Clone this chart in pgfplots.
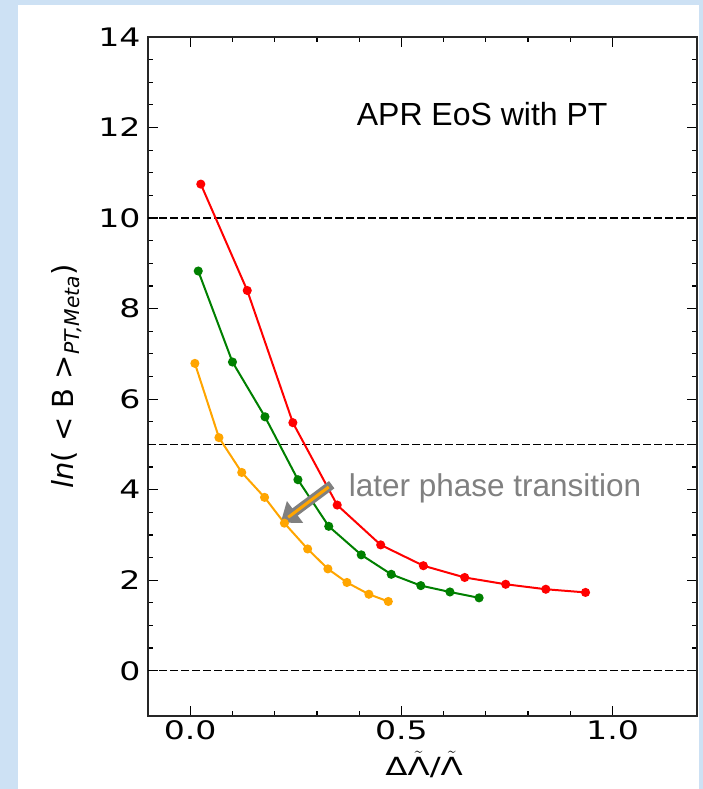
\documentclass[border=0pt]{standalone}
\usepackage{pgfplots}
\pgfplotsset{compat=1.18}
\usepackage{fontspec}
\setmainfont{DejaVu Sans}
\newfontfamily\dvwide[FakeStretch=1.3]{DejaVu Sans}
\newfontfamily\arial{Liberation Sans}
\usetikzlibrary{arrows.meta}
\definecolor{bgblue}{RGB}{205,225,244}
\definecolor{mplred}{RGB}{255,0,0}
\definecolor{mplgreen}{RGB}{0,128,0}
\definecolor{mplorange}{RGB}{255,165,0}
\definecolor{txtgray}{RGB}{128,128,128}
\begin{document}
\begin{tikzpicture}[x=1pt,y=1pt]
\useasboundingbox (0,0) rectangle (703,789);
\fill[bgblue] (0,0) rectangle (703,789);
\fill[white] (18,0) rectangle (699,784);
\begin{axis}[
  at={(148pt,73pt)}, anchor=south west,
  scale only axis, width=549pt, height=679pt,
  xmin=-0.1, xmax=1.2, ymin=-1, ymax=14,
  xtick={0,0.5,1}, minor x tick num=4,
  ytick={0,2,...,14}, minor y tick num=3,
  tick align=inside, tick pos=both,
  major tick length=10pt, minor tick length=5pt,
  every tick/.style={black, line width=1.2pt},
  axis line style={black!85, line width=1.5pt},
  /pgf/number format/assume math mode=true,
  xticklabel style={yshift=-1pt, /pgf/number format/.cd, fixed, fixed zerofill, precision=1},
  tick label style={font=\dvwide\fontsize{25.5}{29}\selectfont},
  yticklabel style={xshift=-4pt},
  xlabel={Δ$\tilde{\mbox{Λ}}$/$\tilde{\mbox{Λ}}$},
  xlabel style={font=\dvwide\fontsize{25}{29}\selectfont, at={(axis description cs:0.503,0)}, anchor=north, yshift=-35pt, inner sep=0pt},
  ylabel={\textit{ln}( < B >\textsubscript{\textit{PT,Meta}})},
  ylabel style={font=\fontsize{29}{33}\selectfont, at={(axis description cs:-0.1475,0.5)}, anchor=center},
  clip=false,
]
\addplot[black, line width=1.2pt, dash pattern=on 8pt off 3pt, forget plot] coordinates {(-0.1,0) (1.2,0)};
\addplot[black, line width=1.2pt, dash pattern=on 8pt off 3pt, forget plot] coordinates {(-0.1,5) (1.2,5)};
\addplot[black, line width=1.2pt, dash pattern=on 8pt off 3pt, forget plot] coordinates {(-0.1,10) (1.2,10)};

\addplot[mplred, line width=2pt, mark=*, mark size=3.5pt] coordinates {
(0.025,10.75) (0.135,8.40) (0.243,5.48) (0.348,3.66) (0.451,2.78) (0.552,2.32) (0.650,2.06) (0.747,1.91) (0.842,1.80) (0.936,1.73)};
\addplot[mplgreen, line width=2pt, mark=*, mark size=3.5pt] coordinates {
(0.019,8.83) (0.100,6.82) (0.177,5.61) (0.255,4.22) (0.328,3.19) (0.405,2.56) (0.476,2.13) (0.546,1.88) (0.615,1.74) (0.684,1.61)};
\addplot[mplorange, line width=2pt, mark=*, mark size=3.5pt] coordinates {
(0.011,6.79) (0.068,5.15) (0.122,4.38) (0.176,3.83) (0.223,3.26) (0.278,2.69) (0.326,2.25) (0.371,1.95) (0.423,1.69) (0.469,1.53)};

\draw[txtgray, line width=9pt, -{Triangle[length=18pt,width=26pt]}] (axis cs:0.335,4.11) -- (axis cs:0.214,3.27);
\draw[mplorange, line width=3pt] (axis cs:0.328,4.06) -- (axis cs:0.232,3.39);

\node[anchor=base west, font=\arial\fontsize{31.5}{36}\selectfont, text=txtgray, inner sep=0pt] at (axis cs:0.375,3.84) {later phase transition};
\node[anchor=base west, font=\arial\fontsize{32}{36}\selectfont, text=black, inner sep=0pt] at (axis cs:0.394,12.05) {APR EoS with PT};
\end{axis}
\end{tikzpicture}
\end{document}
